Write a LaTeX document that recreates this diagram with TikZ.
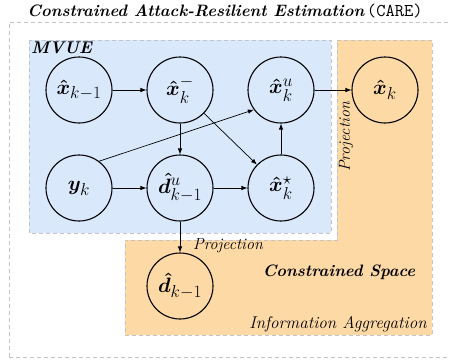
\documentclass[tikz,border=0pt]{standalone}
\usepackage{amsmath}
\usepackage{bm}
\usetikzlibrary{arrows.meta}

% larger scripts for the state labels
\DeclareMathSizes{20}{20}{16}{12}

\definecolor{mvueblue}{HTML}{DAE8FC}
\definecolor{constrorange}{HTML}{FDD9A6}
\definecolor{dashgray}{HTML}{C4C4C4}

\tikzset{
  state/.style={circle, draw, line width=1.1pt, minimum size=66pt, inner sep=0pt,
    font=\fontsize{20}{24}\selectfont},
  flow/.style={-{Latex[length=6pt,width=4.5pt]}, line width=0.7pt},
  region/.style={draw=dashgray, dashed, dash pattern=on 4pt off 3pt, line width=0.9pt},
  lbl/.style={font=\fontsize{16}{19}\selectfont\itshape, inner sep=1pt},
  blbl/.style={font=\fontsize{17}{20}\selectfont\bfseries\itshape, inner sep=1pt},
}

\begin{document}
\begin{tikzpicture}[x=1pt,y=-1pt]
\useasboundingbox (0,0) rectangle (449,362);

% outer frame
\draw[region] (9,357) -- (9,22) -- (460,22);
\draw[region] (9,357) -- (460,357);

% constrained space (L-shaped)
\draw[region, fill=constrorange]
  (337,40) -- (432,40) -- (432,335) -- (125,335) -- (125,240) -- (337,240) -- cycle;

% MVUE block
\draw[region, fill=mvueblue] (29,40) rectangle (331,233);

% title
\node (title) at (225,11) {\fontsize{16.5}{19}\selectfont\bfseries\itshape Constrained Attack-Resilient Estimation\,{\mdseries\upshape\ttfamily\fontsize{18}{20}\selectfont(CARE)}};

\node[blbl, anchor=north west] (mvue) at (30,41) {MVUE};

% estimator states
\node[state] (xprev) at (79,90)  {$\bm{\hat{x}}_{k-1}$};
\node[state] (xpri)  at (180,90) {$\bm{\hat{x}}_k^{-}$};
\node[state] (xu)    at (281,90) {$\bm{\hat{x}}_k^{u}$};
\node[state] (xk)    at (385,90) {$\bm{\hat{x}}_k$};
\node[state] (yk)    at (79,188) {$\bm{y}_k$};
\node[state] (du)    at (180,188) {$\bm{\hat{d}}_{k-1}^{u}$};
\node[state] (xs)    at (281,188) {$\bm{\hat{x}}_k^{\star}$};
\node[state] (dk)    at (180,286) {$\bm{\hat{d}}_{k-1}$};

% connectors
\draw[flow] (xprev) -- (xpri);
\draw[flow] (xpri) -- (du);
\draw[flow] (xpri) -- (xs);
\draw[flow] (yk.53) -- (xu.216);
\draw[flow] (yk) -- (du);
\draw[flow] (du) -- (xs);
\draw[flow] (xs) -- (xu);
\draw[flow] (xu) -- (xk);
\draw[flow] (du) -- (dk);

% labels
\node[lbl, rotate=90] (projx) at (346,137) {Projection};
\node[lbl] (projd) at (228,246) {Projection};
\node[blbl, font=\fontsize{16.5}{20}\selectfont\bfseries\itshape] (cspace) at (339,272) {Constrained Space};
\node[lbl, font=\fontsize{17}{21}\selectfont\itshape] (info) at (338,324) {Information Aggregation};
\end{tikzpicture}
\end{document}
